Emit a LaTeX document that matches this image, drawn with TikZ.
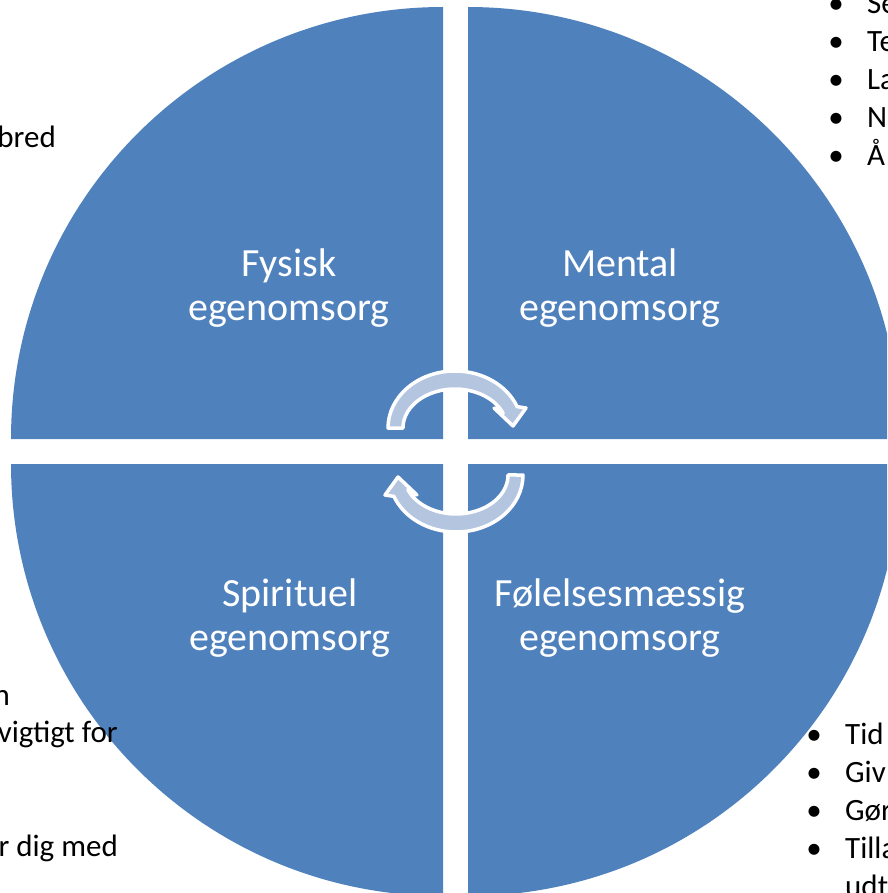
\documentclass[tikz,border=0pt]{standalone}
\usepackage{fontspec}
\setmainfont{Carlito}
\usetikzlibrary{positioning}
\definecolor{quadblue}{RGB}{79,129,189}
\definecolor{arrowfill}{RGB}{180,197,224}
\newcommand\itembul{\llap{\makebox[62pt][c]{•}}}
\tikzset{
    quadrant/.style = {fill=quadblue, draw=none},
    qlabel/.style = {text=white, align=center, font=\fontsize{40}{44}\selectfont, inner sep=0pt, anchor=base},
    sidetext/.style = {text=black, font=\fontsize{31}{38}\selectfont, inner sep=0pt},
    leftitem/.style = {sidetext, anchor=base east},
    bulletitem/.style = {sidetext, anchor=base west},
    cyclearrow/.style = {fill=arrowfill, draw=white, line width=3.5pt, line join=round},
    turnarrow/.pic = {
      \path[cyclearrow] (-67.5,-23.5) arc[start angle=180, end angle=338, x radius=67, y radius=57]
        -- (70.5,-43.5) -- (57.5,-25.5) -- (38.5,-43.5) -- (47.7,-38.1)
        arc[start angle=338, end angle=180, x radius=52, y radius=39] -- cycle;
    }
}

\begin{document}
\begin{tikzpicture}[x=1pt, y=-1pt]
  \useasboundingbox (0,0) rectangle (887,893);
  \clip (0,0) rectangle (887,893);

  % the four quarters
  \fill[quadrant] (443,439) -- (11,439) arc[start angle=180, end angle=270, radius=432] -- cycle;
  \fill[quadrant] (468,439) -- (468,7) arc[start angle=270, end angle=360, radius=432] -- cycle;
  \fill[quadrant] (443,464) -- (443,896) arc[start angle=90, end angle=180, radius=432] -- cycle;
  \fill[quadrant] (468,464) -- (900,464) arc[start angle=0, end angle=90, radius=432] -- cycle;

  \node[qlabel] (fysisk) at (289,320) {Fysisk\\egenomsorg};
  \node[qlabel] (mental) at (620,320) {Mental\\egenomsorg};
  \node[qlabel] (spirituel) at (290,650) {Spirituel\\egenomsorg};
  \node[qlabel] (folelse) at (620,650) {Følelsesmæssig\\egenomsorg};

  % arrows in the middle
  \pic (topturn) at (455.5,451.5) {turnarrow};
  \pic[rotate=180] (bottomturn) at (455.5,451.5) {turnarrow};

  % text around the circle
  \node[leftitem] (bredtxt) at (56,148) {bred};
  \node[leftitem] (ntxt) at (10,705) {n};
  \node[leftitem] (vigtigtxt) at (118,742) {vigtigt for};
  \node[leftitem] (digtxt) at (118,856) {r dig med};

  \node[bulletitem] (se) at (867,14) {\itembul Se};
  \node[bulletitem] (te) at (867,52) {\itembul Te};
  \node[bulletitem] (la) at (867,90) {\itembul La};
  \node[bulletitem] (nn) at (867,128) {\itembul N};
  \node[bulletitem] (aa) at (867,166) {\itembul Å};

  \node[bulletitem] (tid) at (845,744) {\itembul Tid};
  \node[bulletitem] (giv) at (845,782) {\itembul Giv};
  \node[bulletitem] (gor) at (845,820) {\itembul Gør};
  \node[bulletitem] (tilla) at (845,858) {\itembul Tilla};
  \node[bulletitem] (udt) at (845,896) {udt};
\end{tikzpicture}
\end{document}
